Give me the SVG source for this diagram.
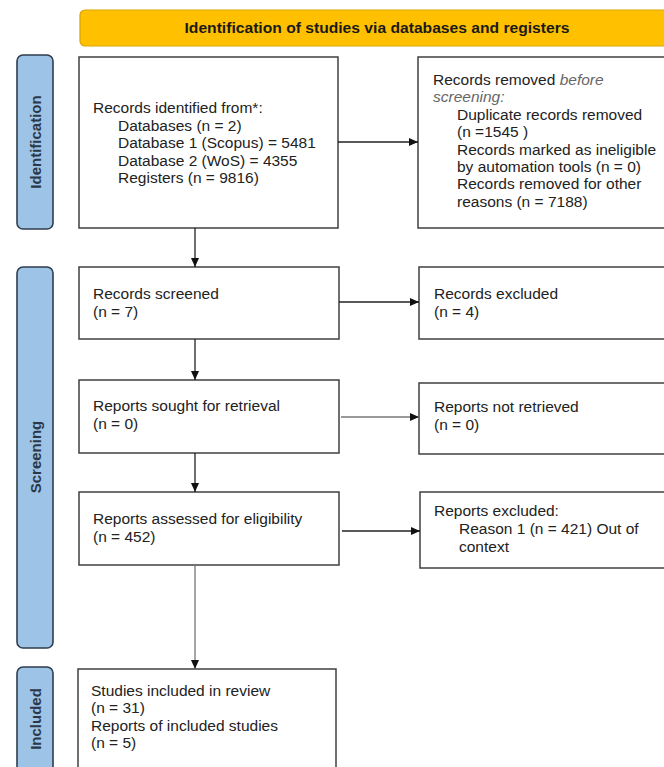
<svg xmlns="http://www.w3.org/2000/svg" width="664" height="767" viewBox="0 0 664 767">
<style>
.box{fill:#fff;stroke:#404040;stroke-width:1.5}
.side{fill:#9DC3E6;stroke:#2F3D4D;stroke-width:1.6}
.t{font-family:"Liberation Sans",Arial,sans-serif;font-size:15.5px;fill:#222}
.it{font-style:italic;fill:#666}
.lab{font-family:"Liberation Sans",Arial,sans-serif;font-size:15px;font-weight:bold;fill:#2B3848;text-anchor:middle}
.hdr{font-family:"Liberation Sans",Arial,sans-serif;font-size:14px;font-weight:bold;fill:#1a1a1a;text-anchor:middle}
.c{stroke:#222;stroke-width:1.3;fill:none}
.g{stroke:#777}
</style>
<defs>
<marker id="ah" markerUnits="userSpaceOnUse" markerWidth="9" markerHeight="8" refX="9" refY="4" orient="auto">
<path d="M0,0 L9,4 L0,8 z" fill="#111"/>
</marker>
</defs>
<rect width="664" height="767" fill="#fff"/>

<g id="header">
<rect x="80" y="10" width="600" height="36" rx="5" fill="#FFC000" stroke="#D9A300" stroke-width="1.2"/>
<text class="hdr" x="377" y="33" textLength="385" lengthAdjust="spacingAndGlyphs">Identification of studies via databases and registers</text>
</g>

<g id="side-identification">
<rect class="side" x="17" y="55" width="36" height="174" rx="6"/>
<text class="lab" transform="translate(41,142) rotate(-90)">Identification</text>
</g>
<g id="side-screening">
<rect class="side" x="17" y="267" width="36" height="381" rx="6"/>
<text class="lab" transform="translate(41,457) rotate(-90)">Screening</text>
</g>
<g id="side-included">
<rect class="side" x="17" y="667" width="36" height="110" rx="6"/>
<text class="lab" transform="translate(41,719) rotate(-90)">Included</text>
</g>

<g id="n-identified">
<rect class="box" x="79" y="57" width="259" height="171"/>
<text class="t" x="93" y="113">Records identified from*:</text>
<text class="t" x="118" y="131">Databases (n = 2)</text>
<text class="t" x="118" y="148">Database 1 (Scopus) = 5481</text>
<text class="t" x="118" y="166">Database 2 (WoS) = 4355</text>
<text class="t" x="118" y="183">Registers (n = 9816)</text>
</g>

<g id="n-removed">
<rect class="box" x="418" y="57" width="260" height="171"/>
<text class="t" x="433" y="85">Records removed <tspan class="it">before</tspan></text>
<text class="t it" x="433" y="102">screening:</text>
<text class="t" x="457" y="120">Duplicate records removed</text>
<text class="t" x="457" y="137">(n =1545 )</text>
<text class="t" x="457" y="155">Records marked as ineligible</text>
<text class="t" x="457" y="172">by automation tools (n = 0)</text>
<text class="t" x="457" y="189">Records removed for other</text>
<text class="t" x="457" y="207">reasons (n = 7188)</text>
</g>

<g id="n-screened">
<rect class="box" x="79" y="267" width="260" height="72"/>
<text class="t" x="93" y="299">Records screened</text>
<text class="t" x="93" y="317">(n = 7)</text>
</g>

<g id="n-excluded">
<rect class="box" x="419" y="267" width="259" height="72"/>
<text class="t" x="434" y="299">Records excluded</text>
<text class="t" x="434" y="317">(n = 4)</text>
</g>

<g id="n-sought">
<rect class="box" x="79" y="380" width="260" height="73"/>
<text class="t" x="93" y="411">Reports sought for retrieval</text>
<text class="t" x="93" y="429">(n = 0)</text>
</g>

<g id="n-notretrieved">
<rect class="box" x="419" y="383" width="259" height="71"/>
<text class="t" x="434" y="412">Reports not retrieved</text>
<text class="t" x="434" y="430">(n = 0)</text>
</g>

<g id="n-assessed">
<rect class="box" x="79" y="492" width="260" height="73"/>
<text class="t" x="93" y="524">Reports assessed for eligibility</text>
<text class="t" x="93" y="542">(n = 452)</text>
</g>

<g id="n-reportsexcluded">
<rect class="box" x="420" y="492" width="258" height="76"/>
<text class="t" x="434" y="516">Reports excluded:</text>
<text class="t" x="459" y="534">Reason 1 (n = 421) Out of</text>
<text class="t" x="459" y="552">context</text>
</g>

<g id="n-included">
<rect class="box" x="78" y="669" width="258" height="110"/>
<text class="t" x="91" y="696">Studies included in review</text>
<text class="t" x="91" y="713">(n = 31)</text>
<text class="t" x="91" y="731">Reports of included studies</text>
<text class="t" x="91" y="748">(n = 5)</text>
</g>

<g id="connectors">
<line class="c" x1="338" y1="142" x2="418" y2="142" marker-end="url(#ah)"/>
<line class="c" x1="195" y1="228" x2="195" y2="267" marker-end="url(#ah)"/>
<line class="c" x1="339" y1="302" x2="419" y2="302" marker-end="url(#ah)"/>
<line class="c" x1="195" y1="339" x2="195" y2="380" marker-end="url(#ah)"/>
<line class="c g" x1="341" y1="417" x2="419" y2="417" marker-end="url(#ah)"/>
<line class="c" x1="195" y1="453" x2="195" y2="492" marker-end="url(#ah)"/>
<line class="c" x1="342" y1="531" x2="420" y2="531" marker-end="url(#ah)"/>
<line class="c g" x1="195" y1="565" x2="195" y2="669" marker-end="url(#ah)"/>
</g>
</svg>
